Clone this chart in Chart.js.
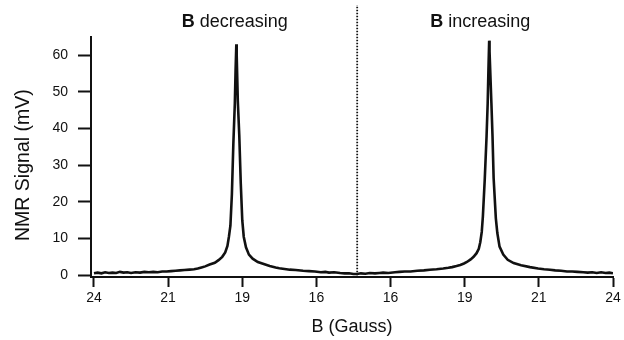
<!DOCTYPE html>
<html>
<head>
<meta charset="utf-8">
<script src="https://cdn.jsdelivr.net/npm/chart.js@4.4.1/dist/chart.umd.min.js"></script>
<style>
  html, body { margin: 0; padding: 0; background: #fff; }
  canvas { display: block; }
</style>
</head>
<body>
<canvas id="c" width="624" height="340"></canvas>
<script>
// Horizontal position along the (folded) field axis, in tick-step units
const fieldPos = [0.00,0.05,0.10,0.15,0.20,0.25,0.30,0.35,0.40,0.45,0.50,0.56,0.62,0.68,0.74,0.80,0.86,0.92,0.98,1.04,1.10,1.16,1.22,1.29,1.35,1.40,1.45,1.50,1.56,1.63,1.68,1.73,1.77,1.80,1.82,1.84,1.86,1.88,1.90,1.91,1.92,1.925,1.94,1.96,1.98,2.00,2.02,2.05,2.09,2.14,2.21,2.28,2.37,2.45,2.50,2.57,2.64,2.72,2.82,2.90,2.98,3.06,3.12,3.17,3.24,3.32,3.38,3.44,3.50,3.55,3.60,3.66,3.72,3.79,3.85,3.90,3.97,4.06,4.12,4.19,4.27,4.36,4.45,4.53,4.62,4.71,4.78,4.83,4.89,4.94,4.99,5.03,5.08,5.12,5.16,5.19,5.21,5.23,5.245,5.27,5.295,5.31,5.32,5.33,5.335,5.36,5.375,5.39,5.42,5.44,5.47,5.52,5.58,5.66,5.76,5.88,5.99,6.07,6.15,6.22,6.30,6.38,6.45,6.52,6.60,6.66,6.72,6.78,6.84,6.90,6.95,7.00];
// NMR signal (mV)
const signal = [0.5,0.7,0.5,0.8,0.6,0.7,0.6,0.9,0.7,0.8,0.6,0.8,0.7,0.9,0.8,0.9,0.8,1.0,1.0,1.1,1.2,1.3,1.4,1.5,1.6,1.8,2.1,2.4,2.9,3.4,4.1,5.0,6.2,8.0,10.5,13.5,22.0,36.0,47.0,56.0,63.0,60.0,47.5,38.0,25.0,15.0,10.5,7.6,5.6,4.5,3.6,3.1,2.5,2.1,1.9,1.7,1.5,1.4,1.2,1.1,1.0,0.8,0.9,0.7,0.8,0.6,0.5,0.5,0.3,0.3,0.5,0.4,0.6,0.5,0.6,0.7,0.6,0.8,0.9,1.0,1.0,1.2,1.3,1.5,1.6,1.8,2.0,2.2,2.5,2.8,3.2,3.6,4.3,5.0,6.0,7.2,9.0,11.8,16.0,26.0,38.0,47.0,56.0,64.0,61.0,47.0,38.0,26.5,15.5,11.5,7.8,5.6,4.2,3.3,2.7,2.2,1.8,1.6,1.5,1.3,1.2,1.0,1.0,0.9,0.8,0.7,0.8,0.6,0.8,0.6,0.7,0.5];
// Tick labels, B (Gauss), for tick positions 0..7
const xTickLabels = ['24','21','19','16','16','19','21','24'];
const yTicks = [0,10,20,30,40,50,60];
// Divider between the two sweeps
const dividerPos = [3.55, 3.55];
const dividerVal = [0, 73.7];
// Panel headings
const headings = [
  { bold: 'B', rest: ' decreasing', pos: 1.90 },
  { bold: 'B', rest: ' increasing', pos: 5.21 }
];

const FONT = "'Liberation Sans', Arial, Helvetica, sans-serif";

const headingPlugin = {
  id: 'headings',
  afterDraw(chart) {
    const ctx = chart.ctx;
    const xs = chart.scales.x;
    ctx.save();
    ctx.fillStyle = '#111';
    ctx.textBaseline = 'alphabetic';
    headings.forEach(h => {
      ctx.font = 'bold 18px ' + FONT;
      const wb = ctx.measureText(h.bold).width;
      ctx.font = '18px ' + FONT;
      const wr = ctx.measureText(h.rest).width;
      const cx = xs.getPixelForValue(h.pos);
      const x0 = cx - (wb + wr) / 2;
      ctx.font = 'bold 18px ' + FONT;
      ctx.textAlign = 'left';
      ctx.fillText(h.bold, x0, 27);
      ctx.font = '18px ' + FONT;
      ctx.fillText(h.rest, x0 + wb, 27);
    });
    ctx.restore();
  }
};

new Chart(document.getElementById('c'), {
  type: 'scatter',
  data: {
    datasets: [
      {
        data: fieldPos.map((x, i) => ({ x, y: signal[i] })),
        showLine: true,
        borderColor: '#111',
        borderWidth: 2.6,
        pointRadius: 0,
        tension: 0
      },
      {
        data: dividerPos.map((x, i) => ({ x, y: dividerVal[i] })),
        showLine: true,
        borderColor: '#111',
        borderWidth: 1.8,
        borderDash: [1.5, 1.5],
        pointRadius: 0,
        clip: false
      }
    ]
  },
  options: {
    responsive: false,
    animation: false,
    devicePixelRatio: 1,
    layout: { padding: { top: 37, right: 11, left: 0, bottom: 0 } },
    plugins: { legend: { display: false }, tooltip: { enabled: false } },
    scales: {
      x: {
        type: 'linear',
        min: -0.04,
        max: 7,
        afterFit(s) { s.height = 63; },
        afterBuildTicks(s) { s.ticks = xTickLabels.map((_, i) => ({ value: i })); },
        ticks: {
          color: '#111',
          font: { family: FONT, size: 14 },
          padding: 3,
          maxRotation: 0,
          autoSkip: false,
          callback: (v, i) => xTickLabels[i]
        },
        grid: { drawOnChartArea: false, tickLength: 10, tickWidth: 2, tickColor: '#111' },
        border: { color: '#111', width: 2 },
        title: {
          display: true,
          text: 'B (Gauss)',
          color: '#111',
          font: { family: FONT, size: 18 },
          padding: { top: 0, bottom: 2 }
        }
      },
      y: {
        type: 'linear',
        min: -0.5,
        max: 65,
        afterFit(s) { s.width = 91; },
        afterBuildTicks(s) { s.ticks = yTicks.map(v => ({ value: v })); },
        ticks: {
          color: '#111',
          font: { family: FONT, size: 14 },
          padding: 10,
          callback: v => String(v)
        },
        grid: { drawOnChartArea: false, tickLength: 13, tickWidth: 2, tickColor: '#111' },
        border: { color: '#111', width: 2 },
        title: {
          display: true,
          text: 'NMR Signal (mV)   ',
          color: '#111',
          font: { family: FONT, size: 19.5 },
          padding: { top: 12, bottom: 0 }
        }
      }
    }
  },
  plugins: [headingPlugin]
});
</script>
</body>
</html>
